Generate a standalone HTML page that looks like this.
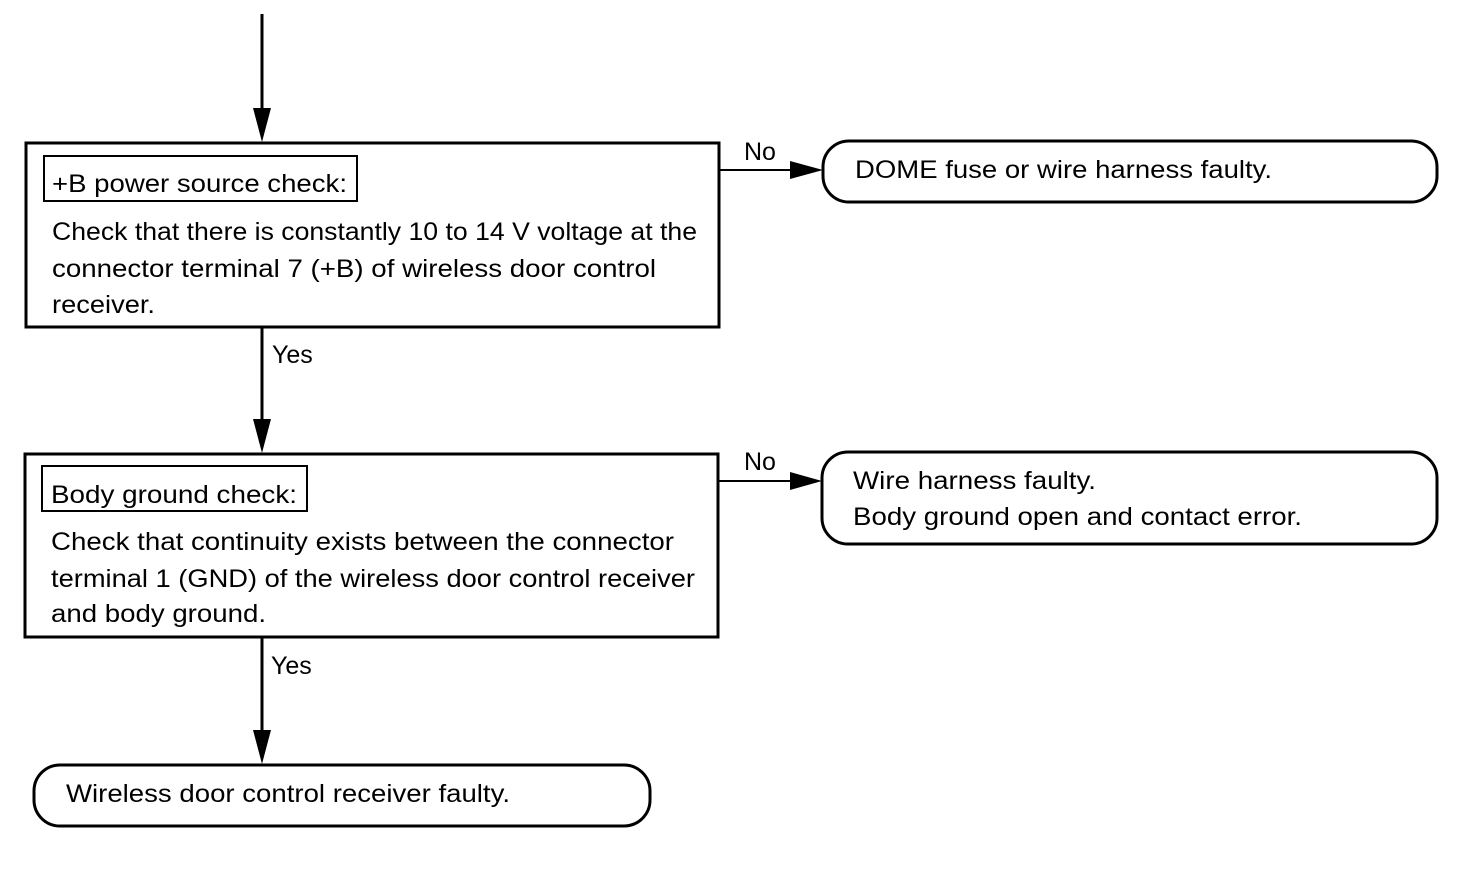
<!DOCTYPE html>
<html><head><style>body{margin:0;background:#fff}svg{display:block}text{font-family:"Liberation Sans",Arial,sans-serif;font-size:25px;fill:#000}</style></head>
<body>
<svg width="1472" height="880" viewBox="0 0 1472 880" xmlns="http://www.w3.org/2000/svg">
<g stroke="#000" stroke-width="3" fill="none">
<rect x="26" y="143" width="693" height="184"/>
<rect x="44" y="156" width="313" height="45" stroke-width="2"/>
<rect x="25" y="454" width="693" height="183"/>
<rect x="42" y="466" width="265" height="45" stroke-width="2"/>
<rect x="823" y="141" width="614" height="61" rx="26"/>
<rect x="822" y="452" width="615" height="92" rx="26"/>
<rect x="34" y="765" width="616" height="61" rx="26"/>
<line x1="262" y1="14" x2="262" y2="115"/>
<line x1="262" y1="327" x2="262" y2="425"/>
<line x1="262" y1="637" x2="262" y2="735"/>
<line x1="719" y1="170" x2="795" y2="170" stroke-width="2"/>
<line x1="718" y1="481" x2="795" y2="481" stroke-width="2"/>
</g>
<g fill="#000">
<polygon points="253,108 271,108 262,142"/>
<polygon points="253,419 271,419 262,453"/>
<polygon points="253,730 271,730 262,764"/>
<polygon points="790,161 790,179 823,170"/>
<polygon points="790,472 790,490 822,481"/>
</g>
<text x="52" y="192" textLength="295" lengthAdjust="spacingAndGlyphs">+B power source check:</text>
<text x="52" y="240" textLength="645" lengthAdjust="spacingAndGlyphs">Check that there is constantly 10 to 14 V voltage at the</text>
<text x="52" y="277" textLength="604" lengthAdjust="spacingAndGlyphs">connector terminal 7 (+B) of wireless door control</text>
<text x="52" y="313" textLength="103" lengthAdjust="spacingAndGlyphs">receiver.</text>
<text x="51" y="503" textLength="246" lengthAdjust="spacingAndGlyphs">Body ground check:</text>
<text x="51" y="550" textLength="623" lengthAdjust="spacingAndGlyphs">Check that continuity exists between the connector</text>
<text x="51" y="587" textLength="644" lengthAdjust="spacingAndGlyphs">terminal 1 (GND) of the wireless door control receiver</text>
<text x="51" y="622" textLength="215" lengthAdjust="spacingAndGlyphs">and body ground.</text>
<text x="855" y="178" textLength="417" lengthAdjust="spacingAndGlyphs">DOME fuse or wire harness faulty.</text>
<text x="853" y="489" textLength="243" lengthAdjust="spacingAndGlyphs">Wire harness faulty.</text>
<text x="853" y="525" textLength="449" lengthAdjust="spacingAndGlyphs">Body ground open and contact error.</text>
<text x="66" y="802" textLength="444" lengthAdjust="spacingAndGlyphs">Wireless door control receiver faulty.</text>
<text x="744" y="160">No</text>
<text x="744" y="470">No</text>
<text x="272" y="363">Yes</text>
<text x="271" y="674">Yes</text>
</svg>
</body></html>
